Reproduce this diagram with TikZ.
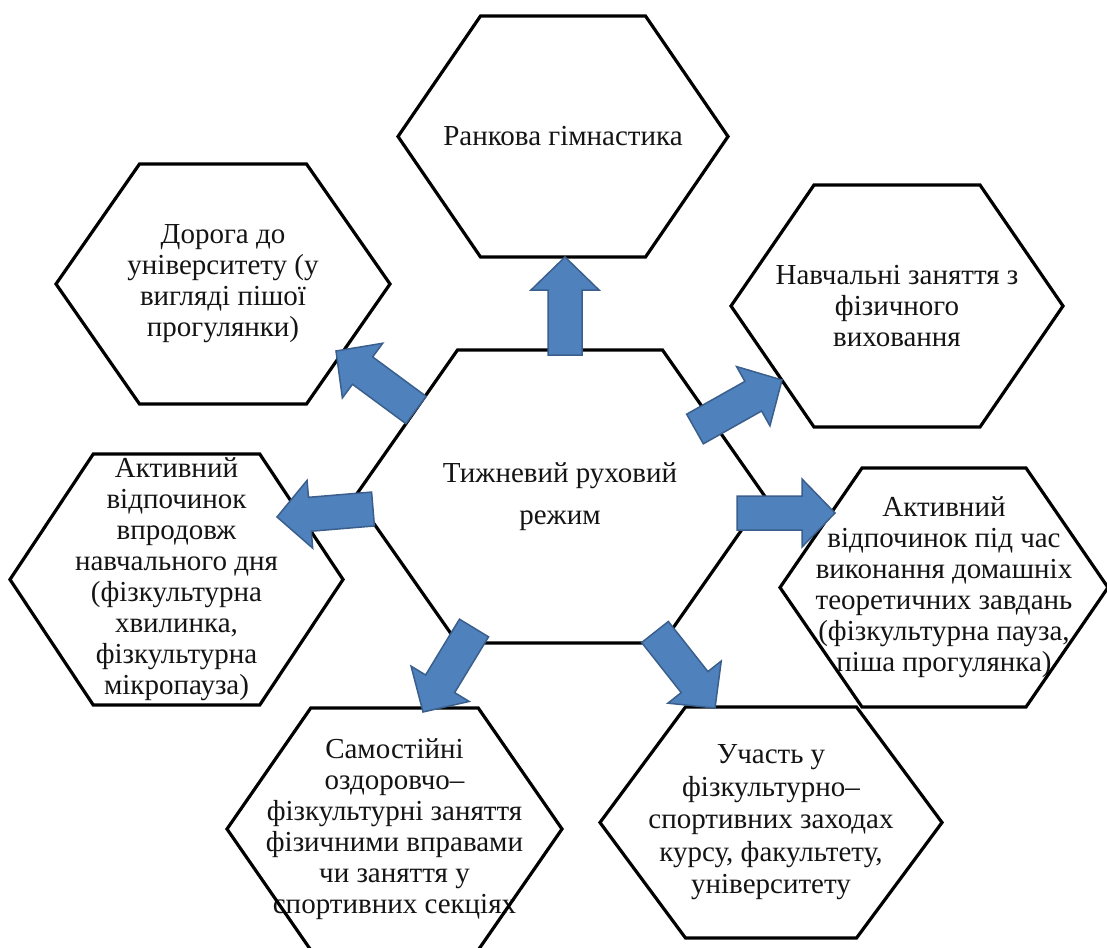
\documentclass[tikz,border=0pt]{standalone}
\usepackage{fontspec}
\setmainfont{Liberation Serif}
\usetikzlibrary{calc}
\definecolor{arrfill}{HTML}{4F81BD}
\definecolor{arrdraw}{HTML}{3A5F8C}
\definecolor{txt}{HTML}{141414}
\tikzset{
  hexbox/.style={rectangle, inner sep=0pt, outer sep=0pt, align=center,
    font=\fontsize{29}{31}\selectfont, text=txt},
  hexline/.style={draw=black, line width=3.2pt, line join=miter},
  blockarr/.style={fill=arrfill, draw=arrdraw, line width=1.5pt, line join=miter},
}
\newcommand{\hexoutline}[1]{%
  \path[hexline] (#1.west) -- ($(#1.north west)!0.25!(#1.north east)$)
    -- ($(#1.north west)!0.75!(#1.north east)$) -- (#1.east)
    -- ($(#1.south west)!0.75!(#1.south east)$)
    -- ($(#1.south west)!0.25!(#1.south east)$) -- cycle;}
\newcommand{\blockarrow}[2]{%
  \coordinate (hb) at ($(#2)!33pt!(#1)$);
  \path[blockarr] ($(#1)!17pt!90:(#2)$) -- ($(hb)!17pt!90:(#2)$)
    -- ($(hb)!34pt!90:(#2)$) -- (#2) -- ($(hb)!34pt!-90:(#2)$)
    -- ($(hb)!17pt!-90:(#2)$) -- ($(#1)!17pt!-90:(#2)$) -- cycle;}
\begin{document}
\begin{tikzpicture}[x=1pt,y=-1pt]
\useasboundingbox (0,0) rectangle (1107,947);
\clip (0,0) rectangle (1107,947);
\fill[white] (0,0) rectangle (1107,947);

% outer hexagons
\node[hexbox, minimum width=330pt, minimum height=241pt] (top) at (563,136.5)
  {Ранкова гімнастика};
\node[hexbox, minimum width=334pt, minimum height=240pt] (ul) at (223,284)
  {Дорога до\\університету (у\\вигляді пішої\\прогулянки)};
\node[hexbox, minimum width=332pt, minimum height=242pt] (ur) at (897,306)
  {Навчальні заняття з\\фізичного\\виховання};
\node[hexbox, minimum width=333pt, minimum height=251pt] (lm) at (176.5,579.5)
  {Активний\\відпочинок\\впродовж\\навчального дня\\(фізкультурна\\хвилинка,\\фізкультурна\\мікропауза)};
\node[hexbox, minimum width=328pt, minimum height=239pt] (rm) at (944,587.5)
  {Активний\\відпочинок під час\\виконання домашніх\\теоретичних завдань\\(фізкультурна пауза,\\піша прогулянка)};
\node[hexbox, minimum width=335pt, minimum height=242pt] (bl) at (394.5,829)
  {Самостійні\\оздоровчо–\\фізкультурні заняття\\фізичними вправами\\чи заняття у\\спортивних секціях};
\node[hexbox, minimum width=342pt, minimum height=231pt, font=\fontsize{29}{32.5}\selectfont] (br) at (771,822.5)
  {Участь у\\фізкультурно–\\спортивних заходах\\курсу, факультету,\\університету};
% central hexagon
\node[hexbox, minimum width=410pt, minimum height=293pt, font=\fontsize{29}{42}\selectfont] (c) at (560,496.5)
  {Тижневий руховий\\режим};

\foreach \n in {top,ul,ur,lm,rm,bl,br,c} {\hexoutline{\n}}

% arrow ends
\coordinate (a1s) at (565,355); \coordinate (a1e) at (565,257);
\coordinate (a2s) at (416,410); \coordinate (a2e) at (336,351);
\coordinate (a3s) at (695,429); \coordinate (a3e) at (782,380);
\coordinate (a4s) at (737,513); \coordinate (a4e) at (835,513);
\coordinate (a5s) at (373,509); \coordinate (a5e) at (277,517);
\coordinate (a6s) at (474,628); \coordinate (a6e) at (423,712);
\coordinate (a7s) at (655,632); \coordinate (a7e) at (715,708);

\blockarrow{a1s}{a1e}
\blockarrow{a2s}{a2e}
\blockarrow{a3s}{a3e}
\blockarrow{a4s}{a4e}
\blockarrow{a5s}{a5e}
\blockarrow{a6s}{a6e}
\blockarrow{a7s}{a7e}
\end{tikzpicture}
\end{document}
